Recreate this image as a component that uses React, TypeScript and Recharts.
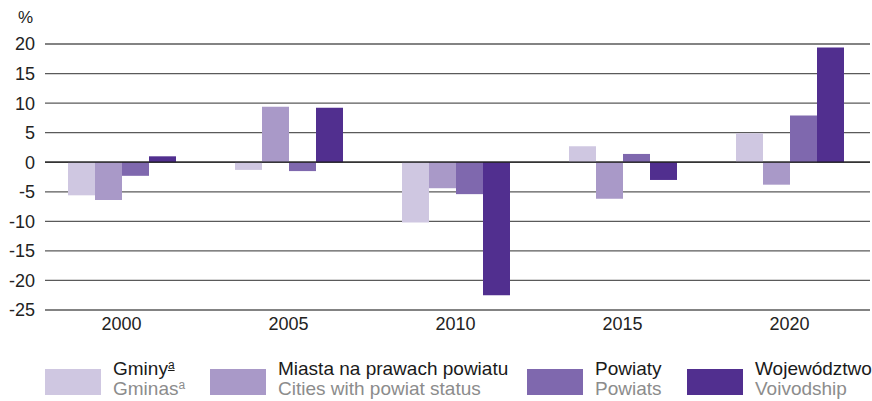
import { BarChart, Bar, XAxis, YAxis, CartesianGrid, ReferenceLine } from "recharts";

const years = ["2000", "2005", "2010", "2015", "2020"];
const gminy = [-5.6, -1.3, -10.2, 2.7, 4.9];
const miasta = [-6.4, 9.4, -4.4, -6.2, -3.8];
const powiaty = [-2.3, -1.5, -5.4, 1.4, 7.9];
const wojewodztwo = [1.0, 9.2, -22.5, -3.0, 19.4];
const yTicks = [-25, -20, -15, -10, -5, 0, 5, 10, 15, 20];

const FONT = '"Liberation Sans", Arial, sans-serif';

const series = [
  { key: "gminy", color: "#cfc7e1", pl: "Gminy", en: "Gminas", note: true },
  { key: "miasta", color: "#a999c8", pl: "Miasta na prawach powiatu", en: "Cities with powiat status", note: false },
  { key: "powiaty", color: "#7f68ae", pl: "Powiaty", en: "Powiats", note: false },
  { key: "wojewodztwo", color: "#512f8f", pl: "Województwo", en: "Voivodship", note: false },
];

const legendLeft = [45, 210, 527, 687];

const data = years.map((year, i) => ({
  year,
  gminy: gminy[i],
  miasta: miasta[i],
  powiaty: powiaty[i],
  wojewodztwo: wojewodztwo[i],
}));

const App = () => {
  return (
    <div style={{ position: "absolute", left: 0, top: 0, width: 872, height: 401, background: "#fff", fontFamily: FONT, overflow: "hidden" }}>
      <span style={{ position: "absolute", left: 18, top: 8, fontSize: 17, color: "#222" }}>%</span>
      <BarChart
        width={872}
        height={340}
        data={data}
        margin={{ top: 44, right: 2, left: 0, bottom: 0 }}
        barGap={0}
        barSize={27}
      >
        <CartesianGrid vertical={false} stroke="#5a5a5a" strokeWidth={1.3} />
        <XAxis
          dataKey="year"
          axisLine={false}
          tickLine={false}
          tickSize={0}
          tickMargin={7}
          height={30}
          padding={{ left: -7, right: -3 }}
          tick={{ fill: "#222", fontSize: 18, fontFamily: FONT }}
        />
        <YAxis
          domain={[-25, 20]}
          ticks={yTicks}
          axisLine={false}
          tickLine={false}
          tickSize={0}
          tickMargin={10}
          width={45}
          interval={0}
          tick={{ fill: "#222", fontSize: 18, fontFamily: FONT }}
        />
        {series.map((s) => (
          <Bar key={s.key} dataKey={s.key} fill={s.color} isAnimationActive={false} />
        ))}
        <ReferenceLine y={0} stroke="#1a1a1a" strokeWidth={1.3} />
      </BarChart>
      {series.map((s, i) => (
        <div key={s.key} style={{ position: "absolute", left: legendLeft[i], top: 359, display: "flex", alignItems: "flex-start" }}>
          <div style={{ width: 56, height: 26, background: s.color, marginTop: 10 }} />
          <div style={{ marginLeft: 12, fontSize: 19, lineHeight: "20px", whiteSpace: "nowrap" }}>
            <div style={{ color: "#1a1a1a" }}>
              {s.pl}
              {s.note && <sup style={{ fontSize: 12, textDecoration: "underline", verticalAlign: "6px", lineHeight: 0 }}>a</sup>}
            </div>
            <div style={{ color: "#8c8c8c" }}>
              {s.en}
              {s.note && <sup style={{ fontSize: 12, verticalAlign: "6px", lineHeight: 0 }}>a</sup>}
            </div>
          </div>
        </div>
      ))}
    </div>
  );
};

export default App;
